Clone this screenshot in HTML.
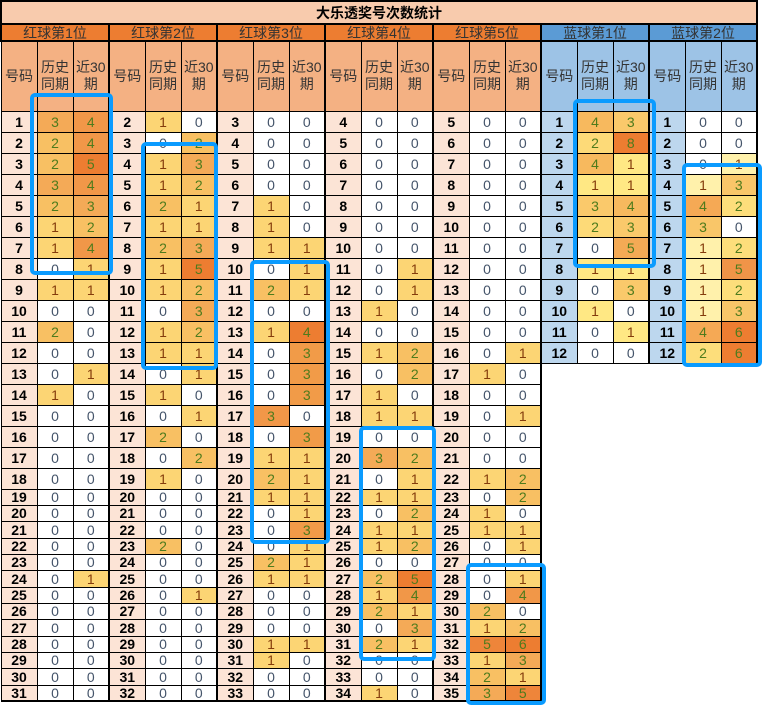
<!DOCTYPE html>
<html><head><meta charset="utf-8">
<style>
body{margin:0;background:#fff;}
#w{position:relative;width:772px;height:709px;overflow:hidden;background:#fff;}
table{position:absolute;left:0;top:0;border-collapse:collapse;table-layout:fixed;width:754px;font-family:"Liberation Sans","Noto Sans CJK SC",sans-serif;}
td{border:1px solid #000;padding:0;text-align:center;font-size:14px;line-height:14px;overflow:hidden;white-space:nowrap;}
tbody.d td:nth-child(3n){border-right:2px solid #000;}
.t{background:#f8cbad;font-weight:bold;height:21px;border:2px solid #000;}
.gr{background:#ed7d31;color:#333;border:2px solid #000;}
.gb{background:#5b9bd5;color:#333;border:2px solid #000;}
.sr{background:#f4b183;color:#333;white-space:normal;line-height:17px;}
.sb{background:#9dc3e6;color:#333;white-space:normal;line-height:17px;}
.n{background:#fce4d6;font-weight:bold;color:#000;}
.m{background:#bdd7ee;font-weight:bold;color:#000;}
tbody.d td.e{border:none;background:#fff;}
.r0,.p0,.q0{background:#fff;color:#44546a;}
.r1{background:#fcd574;color:#843c0c;}
.r2{background:#f8c063;color:#4e7b1c;}
.r3{background:#f4aa57;color:#4e7b1c;}
.r4{background:#f19748;color:#4e7b1c;}
.r5{background:#ee853a;color:#4e7b1c;}
.r6{background:#ed7d31;color:#4e7b1c;}
.rx{background:#f19b48;color:#4e7b1c;}
.ry{background:#ed7d31;color:#4e7b1c;}
.p1{background:#ffe884;color:#843c0c;}
.p2{background:#fdda78;color:#4e7b1c;}
.p3{background:#fac96b;color:#4e7b1c;}
.p4{background:#f7b95e;color:#4e7b1c;}
.p5{background:#f4aa55;color:#4e7b1c;}
.p8{background:#ed7d31;color:#4e7b1c;}
.q1{background:#fff1ab;color:#843c0c;}
.q2{background:#fdde7b;color:#4e7b1c;}
.q3{background:#f9c669;color:#4e7b1c;}
.q4{background:#f5a955;color:#4e7b1c;}
.q5{background:#f09448;color:#4e7b1c;}
.q6{background:#ed7d31;color:#4e7b1c;}
tr.a{height:21px;} tr.b{height:16px;} tr.c{height:17px;}
.o{position:absolute;border:4px solid #0a9bff;border-radius:5px;box-sizing:border-box;}
</style></head><body><div id="w">
<table>
<colgroup><col style="width:36px"><col style="width:36px"><col style="width:36px"><col style="width:36px"><col style="width:36px"><col style="width:36px"><col style="width:36px"><col style="width:36px"><col style="width:36px"><col style="width:36px"><col style="width:36px"><col style="width:36px"><col style="width:36px"><col style="width:36px"><col style="width:36px"><col style="width:36px"><col style="width:36px"><col style="width:36px"><col style="width:36px"><col style="width:36px"><col style="width:36px"></colgroup>
<tbody>
<tr style="height:22px"><td class="t" colspan="21">大乐透奖号次数统计</td></tr>
<tr style="height:17px"><td class="gr" colspan="3">红球第1位</td><td class="gr" colspan="3">红球第2位</td><td class="gr" colspan="3">红球第3位</td><td class="gr" colspan="3">红球第4位</td><td class="gr" colspan="3">红球第5位</td><td class="gb" colspan="3">蓝球第1位</td><td class="gb" colspan="3">蓝球第2位</td></tr>
</tbody>
<tbody class="d">
<tr style="height:70px"><td class="sr">号码</td><td class="sr">历史<br>同期</td><td class="sr">近30<br>期</td><td class="sr">号码</td><td class="sr">历史<br>同期</td><td class="sr">近30<br>期</td><td class="sr">号码</td><td class="sr">历史<br>同期</td><td class="sr">近30<br>期</td><td class="sr">号码</td><td class="sr">历史<br>同期</td><td class="sr">近30<br>期</td><td class="sr">号码</td><td class="sr">历史<br>同期</td><td class="sr">近30<br>期</td><td class="sb">号码</td><td class="sb">历史<br>同期</td><td class="sb">近30<br>期</td><td class="sb">号码</td><td class="sb">历史<br>同期</td><td class="sb">近30<br>期</td></tr>
<tr class="a"><td class="n">1</td><td class="r3">3</td><td class="r4">4</td><td class="n">2</td><td class="r1">1</td><td class="r0">0</td><td class="n">3</td><td class="r0">0</td><td class="r0">0</td><td class="n">4</td><td class="r0">0</td><td class="r0">0</td><td class="n">5</td><td class="r0">0</td><td class="r0">0</td><td class="m">1</td><td class="p4">4</td><td class="p3">3</td><td class="m">1</td><td class="q0">0</td><td class="q0">0</td></tr>
<tr class="a"><td class="n">2</td><td class="r2">2</td><td class="r4">4</td><td class="n">3</td><td class="r0">0</td><td class="r2">2</td><td class="n">4</td><td class="r0">0</td><td class="r0">0</td><td class="n">5</td><td class="r0">0</td><td class="r0">0</td><td class="n">6</td><td class="r0">0</td><td class="r0">0</td><td class="m">2</td><td class="p2">2</td><td class="p8">8</td><td class="m">2</td><td class="q0">0</td><td class="q0">0</td></tr>
<tr class="a"><td class="n">3</td><td class="r2">2</td><td class="r6">5</td><td class="n">4</td><td class="r1">1</td><td class="r3">3</td><td class="n">5</td><td class="r0">0</td><td class="r0">0</td><td class="n">6</td><td class="r0">0</td><td class="r0">0</td><td class="n">7</td><td class="r0">0</td><td class="r0">0</td><td class="m">3</td><td class="p4">4</td><td class="p1">1</td><td class="m">3</td><td class="q0">0</td><td class="q1">1</td></tr>
<tr class="a"><td class="n">4</td><td class="r3">3</td><td class="r4">4</td><td class="n">5</td><td class="r1">1</td><td class="r2">2</td><td class="n">6</td><td class="r0">0</td><td class="r0">0</td><td class="n">7</td><td class="r0">0</td><td class="r0">0</td><td class="n">8</td><td class="r0">0</td><td class="r0">0</td><td class="m">4</td><td class="p1">1</td><td class="p1">1</td><td class="m">4</td><td class="q1">1</td><td class="q3">3</td></tr>
<tr class="a"><td class="n">5</td><td class="r2">2</td><td class="r3">3</td><td class="n">6</td><td class="r2">2</td><td class="r1">1</td><td class="n">7</td><td class="r1">1</td><td class="r0">0</td><td class="n">8</td><td class="r0">0</td><td class="r0">0</td><td class="n">9</td><td class="r0">0</td><td class="r0">0</td><td class="m">5</td><td class="p3">3</td><td class="p4">4</td><td class="m">5</td><td class="q4">4</td><td class="q2">2</td></tr>
<tr class="a"><td class="n">6</td><td class="r1">1</td><td class="r2">2</td><td class="n">7</td><td class="r1">1</td><td class="r1">1</td><td class="n">8</td><td class="r1">1</td><td class="r0">0</td><td class="n">9</td><td class="r0">0</td><td class="r0">0</td><td class="n">10</td><td class="r0">0</td><td class="r0">0</td><td class="m">6</td><td class="p2">2</td><td class="p3">3</td><td class="m">6</td><td class="q3">3</td><td class="q0">0</td></tr>
<tr class="a"><td class="n">7</td><td class="r1">1</td><td class="r4">4</td><td class="n">8</td><td class="r2">2</td><td class="r3">3</td><td class="n">9</td><td class="r1">1</td><td class="r1">1</td><td class="n">10</td><td class="r0">0</td><td class="r0">0</td><td class="n">11</td><td class="r0">0</td><td class="r0">0</td><td class="m">7</td><td class="p0">0</td><td class="p5">5</td><td class="m">7</td><td class="q1">1</td><td class="q2">2</td></tr>
<tr class="a"><td class="n">8</td><td class="r0">0</td><td class="r1">1</td><td class="n">9</td><td class="r1">1</td><td class="r6">5</td><td class="n">10</td><td class="r0">0</td><td class="r1">1</td><td class="n">11</td><td class="r0">0</td><td class="r1">1</td><td class="n">12</td><td class="r0">0</td><td class="r0">0</td><td class="m">8</td><td class="p1">1</td><td class="p1">1</td><td class="m">8</td><td class="q1">1</td><td class="q5">5</td></tr>
<tr class="a"><td class="n">9</td><td class="r1">1</td><td class="r1">1</td><td class="n">10</td><td class="r1">1</td><td class="r2">2</td><td class="n">11</td><td class="r2">2</td><td class="r1">1</td><td class="n">12</td><td class="r0">0</td><td class="r1">1</td><td class="n">13</td><td class="r0">0</td><td class="r0">0</td><td class="m">9</td><td class="p0">0</td><td class="p3">3</td><td class="m">9</td><td class="q1">1</td><td class="q2">2</td></tr>
<tr class="a"><td class="n">10</td><td class="r0">0</td><td class="r0">0</td><td class="n">11</td><td class="r0">0</td><td class="r3">3</td><td class="n">12</td><td class="r0">0</td><td class="r0">0</td><td class="n">13</td><td class="r1">1</td><td class="r0">0</td><td class="n">14</td><td class="r0">0</td><td class="r0">0</td><td class="m">10</td><td class="p1">1</td><td class="p0">0</td><td class="m">10</td><td class="q1">1</td><td class="q3">3</td></tr>
<tr class="a"><td class="n">11</td><td class="r2">2</td><td class="r0">0</td><td class="n">12</td><td class="r1">1</td><td class="r2">2</td><td class="n">13</td><td class="r1">1</td><td class="ry">4</td><td class="n">14</td><td class="r0">0</td><td class="r0">0</td><td class="n">15</td><td class="r0">0</td><td class="r0">0</td><td class="m">11</td><td class="p0">0</td><td class="p1">1</td><td class="m">11</td><td class="q4">4</td><td class="q6">6</td></tr>
<tr class="a"><td class="n">12</td><td class="r0">0</td><td class="r0">0</td><td class="n">13</td><td class="r1">1</td><td class="r1">1</td><td class="n">14</td><td class="r0">0</td><td class="rx">3</td><td class="n">15</td><td class="r1">1</td><td class="r2">2</td><td class="n">16</td><td class="r0">0</td><td class="r1">1</td><td class="m">12</td><td class="p0">0</td><td class="p0">0</td><td class="m">12</td><td class="q2">2</td><td class="q6">6</td></tr>
<tr class="a"><td class="n">13</td><td class="r0">0</td><td class="r1">1</td><td class="n">14</td><td class="r0">0</td><td class="r1">1</td><td class="n">15</td><td class="r0">0</td><td class="rx">3</td><td class="n">16</td><td class="r0">0</td><td class="r2">2</td><td class="n">17</td><td class="r1">1</td><td class="r0">0</td><td class="e"></td><td class="e"></td><td class="e"></td><td class="e"></td><td class="e"></td><td class="e"></td></tr>
<tr class="a"><td class="n">14</td><td class="r1">1</td><td class="r0">0</td><td class="n">15</td><td class="r1">1</td><td class="r0">0</td><td class="n">16</td><td class="r0">0</td><td class="rx">3</td><td class="n">17</td><td class="r1">1</td><td class="r0">0</td><td class="n">18</td><td class="r0">0</td><td class="r0">0</td><td class="e"></td><td class="e"></td><td class="e"></td><td class="e"></td><td class="e"></td><td class="e"></td></tr>
<tr class="a"><td class="n">15</td><td class="r0">0</td><td class="r0">0</td><td class="n">16</td><td class="r0">0</td><td class="r1">1</td><td class="n">17</td><td class="r4">3</td><td class="r0">0</td><td class="n">18</td><td class="r1">1</td><td class="r1">1</td><td class="n">19</td><td class="r0">0</td><td class="r1">1</td><td class="e"></td><td class="e"></td><td class="e"></td><td class="e"></td><td class="e"></td><td class="e"></td></tr>
<tr class="a"><td class="n">16</td><td class="r0">0</td><td class="r0">0</td><td class="n">17</td><td class="r2">2</td><td class="r0">0</td><td class="n">18</td><td class="r0">0</td><td class="rx">3</td><td class="n">19</td><td class="r0">0</td><td class="r0">0</td><td class="n">20</td><td class="r0">0</td><td class="r0">0</td><td class="e"></td><td class="e"></td><td class="e"></td><td class="e"></td><td class="e"></td><td class="e"></td></tr>
<tr class="a"><td class="n">17</td><td class="r0">0</td><td class="r0">0</td><td class="n">18</td><td class="r0">0</td><td class="r2">2</td><td class="n">19</td><td class="r1">1</td><td class="r1">1</td><td class="n">20</td><td class="r3">3</td><td class="r2">2</td><td class="n">21</td><td class="r0">0</td><td class="r0">0</td><td class="e"></td><td class="e"></td><td class="e"></td><td class="e"></td><td class="e"></td><td class="e"></td></tr>
<tr class="a"><td class="n">18</td><td class="r0">0</td><td class="r0">0</td><td class="n">19</td><td class="r1">1</td><td class="r0">0</td><td class="n">20</td><td class="r2">2</td><td class="r1">1</td><td class="n">21</td><td class="r0">0</td><td class="r1">1</td><td class="n">22</td><td class="r1">1</td><td class="r2">2</td><td class="e"></td><td class="e"></td><td class="e"></td><td class="e"></td><td class="e"></td><td class="e"></td></tr>
<tr class="b"><td class="n">19</td><td class="r0">0</td><td class="r0">0</td><td class="n">20</td><td class="r0">0</td><td class="r0">0</td><td class="n">21</td><td class="r1">1</td><td class="r1">1</td><td class="n">22</td><td class="r1">1</td><td class="r1">1</td><td class="n">23</td><td class="r0">0</td><td class="r2">2</td><td class="e"></td><td class="e"></td><td class="e"></td><td class="e"></td><td class="e"></td><td class="e"></td></tr>
<tr class="b"><td class="n">20</td><td class="r0">0</td><td class="r0">0</td><td class="n">21</td><td class="r0">0</td><td class="r0">0</td><td class="n">22</td><td class="r0">0</td><td class="r1">1</td><td class="n">23</td><td class="r0">0</td><td class="r2">2</td><td class="n">24</td><td class="r1">1</td><td class="r0">0</td><td class="e"></td><td class="e"></td><td class="e"></td><td class="e"></td><td class="e"></td><td class="e"></td></tr>
<tr class="c"><td class="n">21</td><td class="r0">0</td><td class="r0">0</td><td class="n">22</td><td class="r0">0</td><td class="r0">0</td><td class="n">23</td><td class="r0">0</td><td class="rx">3</td><td class="n">24</td><td class="r1">1</td><td class="r1">1</td><td class="n">25</td><td class="r1">1</td><td class="r1">1</td><td class="e"></td><td class="e"></td><td class="e"></td><td class="e"></td><td class="e"></td><td class="e"></td></tr>
<tr class="b"><td class="n">22</td><td class="r0">0</td><td class="r0">0</td><td class="n">23</td><td class="r2">2</td><td class="r0">0</td><td class="n">24</td><td class="r0">0</td><td class="r1">1</td><td class="n">25</td><td class="r1">1</td><td class="r2">2</td><td class="n">26</td><td class="r0">0</td><td class="r1">1</td><td class="e"></td><td class="e"></td><td class="e"></td><td class="e"></td><td class="e"></td><td class="e"></td></tr>
<tr class="b"><td class="n">23</td><td class="r0">0</td><td class="r0">0</td><td class="n">24</td><td class="r0">0</td><td class="r0">0</td><td class="n">25</td><td class="r2">2</td><td class="r1">1</td><td class="n">26</td><td class="r0">0</td><td class="r0">0</td><td class="n">27</td><td class="r0">0</td><td class="r0">0</td><td class="e"></td><td class="e"></td><td class="e"></td><td class="e"></td><td class="e"></td><td class="e"></td></tr>
<tr class="c"><td class="n">24</td><td class="r0">0</td><td class="r1">1</td><td class="n">25</td><td class="r0">0</td><td class="r0">0</td><td class="n">26</td><td class="r1">1</td><td class="r1">1</td><td class="n">27</td><td class="r2">2</td><td class="r6">5</td><td class="n">28</td><td class="r0">0</td><td class="r1">1</td><td class="e"></td><td class="e"></td><td class="e"></td><td class="e"></td><td class="e"></td><td class="e"></td></tr>
<tr class="b"><td class="n">25</td><td class="r0">0</td><td class="r0">0</td><td class="n">26</td><td class="r0">0</td><td class="r1">1</td><td class="n">27</td><td class="r0">0</td><td class="r0">0</td><td class="n">28</td><td class="r1">1</td><td class="r4">4</td><td class="n">29</td><td class="r0">0</td><td class="r4">4</td><td class="e"></td><td class="e"></td><td class="e"></td><td class="e"></td><td class="e"></td><td class="e"></td></tr>
<tr class="b"><td class="n">26</td><td class="r0">0</td><td class="r0">0</td><td class="n">27</td><td class="r0">0</td><td class="r0">0</td><td class="n">28</td><td class="r0">0</td><td class="r0">0</td><td class="n">29</td><td class="r2">2</td><td class="r1">1</td><td class="n">30</td><td class="r2">2</td><td class="r0">0</td><td class="e"></td><td class="e"></td><td class="e"></td><td class="e"></td><td class="e"></td><td class="e"></td></tr>
<tr class="c"><td class="n">27</td><td class="r0">0</td><td class="r0">0</td><td class="n">28</td><td class="r0">0</td><td class="r0">0</td><td class="n">29</td><td class="r0">0</td><td class="r0">0</td><td class="n">30</td><td class="r0">0</td><td class="r3">3</td><td class="n">31</td><td class="r1">1</td><td class="r2">2</td><td class="e"></td><td class="e"></td><td class="e"></td><td class="e"></td><td class="e"></td><td class="e"></td></tr>
<tr class="b"><td class="n">28</td><td class="r0">0</td><td class="r0">0</td><td class="n">29</td><td class="r0">0</td><td class="r0">0</td><td class="n">30</td><td class="r1">1</td><td class="r1">1</td><td class="n">31</td><td class="r2">2</td><td class="r1">1</td><td class="n">32</td><td class="r5">5</td><td class="r6">6</td><td class="e"></td><td class="e"></td><td class="e"></td><td class="e"></td><td class="e"></td><td class="e"></td></tr>
<tr class="b"><td class="n">29</td><td class="r0">0</td><td class="r0">0</td><td class="n">30</td><td class="r0">0</td><td class="r0">0</td><td class="n">31</td><td class="r1">1</td><td class="r0">0</td><td class="n">32</td><td class="r0">0</td><td class="r0">0</td><td class="n">33</td><td class="r1">1</td><td class="r3">3</td><td class="e"></td><td class="e"></td><td class="e"></td><td class="e"></td><td class="e"></td><td class="e"></td></tr>
<tr class="c"><td class="n">30</td><td class="r0">0</td><td class="r0">0</td><td class="n">31</td><td class="r0">0</td><td class="r0">0</td><td class="n">32</td><td class="r0">0</td><td class="r0">0</td><td class="n">33</td><td class="r0">0</td><td class="r0">0</td><td class="n">34</td><td class="r2">2</td><td class="r1">1</td><td class="e"></td><td class="e"></td><td class="e"></td><td class="e"></td><td class="e"></td><td class="e"></td></tr>
<tr class="b"><td class="n" style="border-bottom:2px solid #000">31</td><td class="r0" style="border-bottom:2px solid #000">0</td><td class="r0" style="border-bottom:2px solid #000">0</td><td class="n" style="border-bottom:2px solid #000">32</td><td class="r0" style="border-bottom:2px solid #000">0</td><td class="r0" style="border-bottom:2px solid #000">0</td><td class="n" style="border-bottom:2px solid #000">33</td><td class="r0" style="border-bottom:2px solid #000">0</td><td class="r0" style="border-bottom:2px solid #000">0</td><td class="n" style="border-bottom:2px solid #000">34</td><td class="r1" style="border-bottom:2px solid #000">1</td><td class="r0" style="border-bottom:2px solid #000">0</td><td class="n" style="border-bottom:2px solid #000">35</td><td class="r3" style="border-bottom:2px solid #000">3</td><td class="r5" style="border-bottom:2px solid #000">5</td><td class="e"></td><td class="e"></td><td class="e"></td><td class="e"></td><td class="e"></td><td class="e"></td></tr>
</tbody>
</table>
<div class="o" style="left:30px;top:93px;width:83px;height:182px"></div>
<div class="o" style="left:141px;top:142px;width:77px;height:228px"></div>
<div class="o" style="left:250px;top:260px;width:80px;height:284px"></div>
<div class="o" style="left:359px;top:426px;width:77px;height:235px"></div>
<div class="o" style="left:466px;top:563px;width:80px;height:142px"></div>
<div class="o" style="left:573px;top:99px;width:83px;height:169px"></div>
<div class="o" style="left:682px;top:163px;width:80px;height:204px"></div>
</div></body></html>
